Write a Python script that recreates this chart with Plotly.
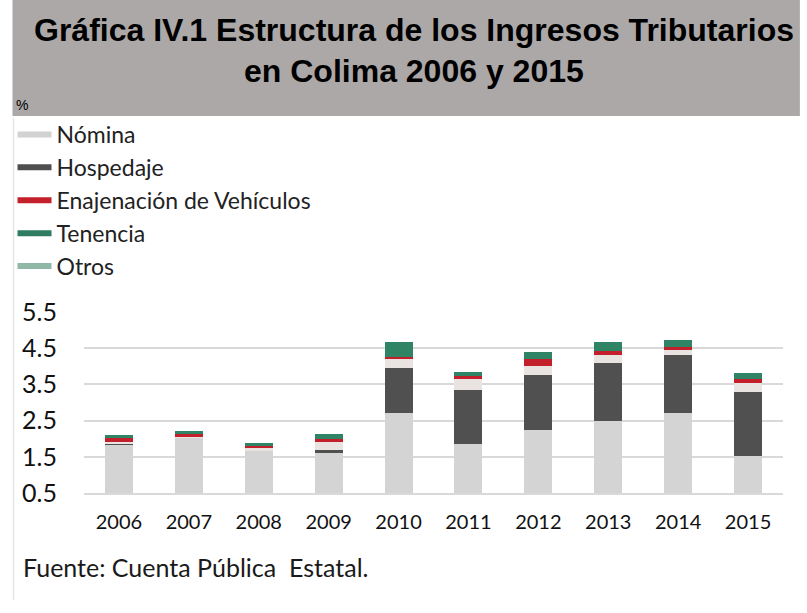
import plotly.graph_objects as go

years = ["2006", "2007", "2008", "2009", "2010", "2011", "2012", "2013", "2014", "2015"]
nomina = [1.85, 2.02, 1.68, 1.63, 2.70, 1.85, 2.24, 2.48, 2.70, 1.52]
hospedaje = [0.02, 0.00, 0.00, 0.05, 1.24, 1.49, 1.52, 1.60, 1.60, 1.76]
otros = [0.05, 0.03, 0.05, 0.22, 0.25, 0.30, 0.25, 0.22, 0.14, 0.25]
enajenacion = [0.11, 0.08, 0.08, 0.08, 0.08, 0.08, 0.19, 0.11, 0.08, 0.11]
tenencia = [0.08, 0.08, 0.08, 0.14, 0.41, 0.11, 0.19, 0.25, 0.22, 0.17]

legend_names = ["Nómina", "Hospedaje", "Enajenación de Vehículos", "Tenencia", "Otros"]
legend_colors = ["#d2d2d2", "#4f4f4f", "#c4202c", "#2e7d62", "#8fb8a7"]

y_ticks = [0.5, 1.5, 2.5, 3.5, 4.5, 5.5]

W, H = 807, 613
L, R, T, B = 79, 783, 312, 493


def px(x):
    return (x - L) / (R - L)


def py(y):
    return (B - y) / (B - T)


fig = go.Figure()

stack = [
    ("Nómina", nomina, "#d4d4d4"),
    ("Hospedaje", hospedaje, "#505050"),
    ("Otros", otros, "#e9e3e2"),
    ("Enajenación de Vehículos", enajenacion, "#c4202c"),
    ("Tenencia", tenencia, "#2f8466"),
]
for name, vals, col in stack:
    fig.add_trace(go.Bar(x=years, y=vals, name=name, marker=dict(color=col, line=dict(width=0)),
                         showlegend=False))

for name, col in zip(legend_names, legend_colors):
    fig.add_trace(go.Scatter(x=[None], y=[None], mode="lines", name=name,
                             line=dict(color=col, width=6)))

fig.update_layout(
    width=W, height=H,
    margin=dict(l=L, r=W - R, t=T, b=H - B, pad=0),
    paper_bgcolor="white", plot_bgcolor="white",
    barmode="stack", bargap=0.6,
    font=dict(family="Lato, Open Sans, sans-serif", color="#1a1a1a"),
    showlegend=True,
    legend=dict(x=px(7), y=py(113), xanchor="left", yanchor="top", traceorder="normal",
                font=dict(size=23, color="#222222", family="Lato, sans-serif"),
                bgcolor="rgba(0,0,0,0)", tracegroupgap=0, itemwidth=34),
    xaxis=dict(type="category", showgrid=False, showline=True, linecolor="#d9d9d9", linewidth=1.5,
               ticks="", tickfont=dict(size=20, color="#111111"), ticklabelstandoff=10),
    yaxis=dict(range=[0.5, 5.5], tickvals=y_ticks, ticktext=[f"{v:.1f}" for v in y_ticks],
               showgrid=True, gridcolor="#d9d9d9", gridwidth=1.5, zeroline=False,
               ticks="", tickfont=dict(size=25, color="#111111"), ticklabelstandoff=26),
)

# title band
fig.add_shape(type="rect", xref="paper", yref="paper", x0=px(7), x1=px(800), y0=py(116), y1=py(0),
              fillcolor="#aca8a7", line=dict(width=0), layer="below")
fig.add_shape(type="line", xref="paper", yref="paper", x0=px(8), x1=px(8), y0=py(118), y1=py(600),
              line=dict(color="#e6e6e6", width=1.5))

title_font = dict(family="Liberation Sans, Arial, sans-serif", size=32, color="black")
fig.add_annotation(text="<b>Gráfica IV.1 Estructura de los Ingresos Tributarios</b>", xref="paper", yref="paper",
                   x=px(411), y=py(30), xanchor="center", yanchor="middle", showarrow=False, font=title_font)
fig.add_annotation(text="<b>en Colima 2006 y 2015</b>", xref="paper", yref="paper",
                   x=px(411), y=py(71), xanchor="center", yanchor="middle", showarrow=False, font=title_font)
fig.add_annotation(text="%", xref="paper", yref="paper", x=px(9), y=py(105), xanchor="left", yanchor="middle",
                   showarrow=False,
                   font=dict(family="Liberation Sans, Arial, sans-serif", size=14, color="black"))
fig.add_annotation(text="Fuente: Cuenta Pública  Estatal.", xref="paper", yref="paper", x=px(16), y=py(567),
                   xanchor="left", yanchor="middle", showarrow=False,
                   font=dict(family="Lato, sans-serif", size=25, color="#1a1a1a"))

fig.write_html("out.html", config={"displayModeBar": False},
               post_script="document.body.style.margin='0';")
